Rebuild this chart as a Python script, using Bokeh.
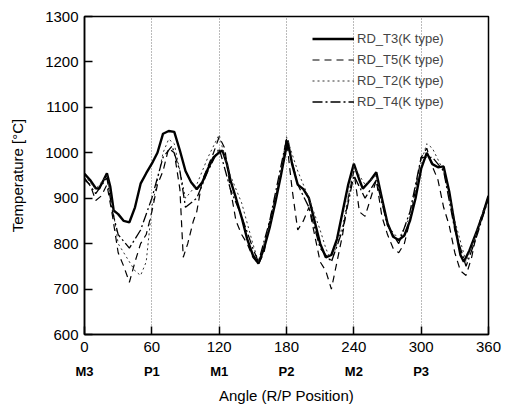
from bokeh.plotting import figure
from bokeh.models import Range1d, FixedTicker, LinearAxis, Legend, LegendItem
from bokeh.embed import file_html
from bokeh.resources import INLINE

# ---- data ----
t3_x = [0, 5, 10, 13, 17, 20, 23, 26, 30, 35, 40, 45, 50, 55, 60, 65, 70, 75, 80, 85, 90, 95,
        100, 105, 110, 115, 120, 123, 127, 130, 135, 140, 145, 150, 155, 160, 165, 170, 175,
        181, 185, 190, 195, 200, 205, 210, 215, 220, 225, 230, 235, 240, 245, 248, 255, 260,
        265, 270, 275, 280, 285, 290, 295, 300, 305, 310, 315, 320, 325, 330, 335, 338, 343,
        350, 355, 360]
t3_y = [954, 940, 922, 921, 940, 955, 925, 873, 865, 850, 847, 880, 932, 955, 976, 1000, 1042,
        1048, 1046, 1005, 960, 935, 920, 935, 965, 990, 1001, 1005, 975, 940, 900, 858, 810,
        775, 756, 790, 835, 890, 950, 1027, 975, 930, 920, 900, 850, 800, 770, 775, 810, 870,
        930, 976, 940, 921, 940, 957, 900, 845, 815, 808, 818, 850, 900, 965, 1000, 975, 968,
        970, 915, 840, 775, 760, 785, 830, 865, 905]

t5_x = [0, 5, 10, 15, 20, 25, 30, 35, 40, 45, 50, 55, 60, 65, 70, 75, 80, 85, 88, 92, 97, 100,
        105, 110, 115, 120, 125, 130, 135, 140, 145, 150, 155, 160, 165, 170, 175, 180, 185,
        190, 195, 200, 205, 210, 215, 220, 225, 230, 235, 240, 245, 250, 255, 260, 265, 270,
        275, 280, 285, 290, 295, 300, 305, 310, 315, 320, 325, 330, 335, 340, 345, 350, 355, 360]
t5_y = [940, 930, 895, 905, 930, 860, 780, 750, 715, 760, 800, 820, 870, 930, 960, 1010, 1000,
        920, 770, 800, 850, 870, 940, 970, 1000, 1035, 1010, 920, 850, 820, 800, 770, 755, 780,
        850, 900, 950, 1030, 920, 830, 850, 880, 820, 760, 740, 700, 760, 820, 900, 960, 870,
        860, 900, 940, 860, 820, 790, 780, 800, 850, 920, 990, 1010, 970, 940, 880, 840, 780,
        740, 730, 770, 830, 870, 900]

t2_x = [0, 10, 20, 25, 30, 35, 45, 50, 55, 60, 70, 75, 80, 85, 90, 100, 110, 120, 125, 130,
        140, 150, 155, 165, 175, 180, 190, 200, 210, 215, 220, 230, 240, 250, 260, 270, 280,
        290, 300, 305, 310, 320, 330, 340, 350, 360]
t2_y = [950, 920, 950, 880, 800, 780, 740, 730, 760, 880, 1000, 1030, 1020, 960, 900, 930, 990,
        1040, 990, 950, 890, 800, 760, 840, 960, 1035, 960, 900, 830, 790, 760, 840, 970, 930,
        950, 840, 810, 860, 980, 1020, 1010, 960, 850, 760, 830, 900]

t4_x = [0, 10, 20, 25, 30, 40, 50, 60, 70, 78, 85, 90, 100, 110, 120, 130, 140, 150, 155, 165,
        180, 190, 200, 210, 220, 230, 240, 250, 260, 270, 280, 290, 300, 310, 320, 330, 340,
        350, 360]
t4_y = [945, 910, 945, 870, 820, 790, 830, 900, 990, 1015, 960, 880, 900, 960, 1010, 920, 860,
        790, 760, 850, 1030, 930, 880, 790, 760, 830, 950, 900, 940, 840, 800, 870, 990, 990,
        960, 830, 750, 820, 900]

x_ticks = [0, 60, 120, 180, 240, 300, 360]
y_ticks = [600, 700, 800, 900, 1000, 1100, 1200, 1300]
pos_ticks = [0, 60, 120, 180, 240, 300]
pos_labels = ["M3", "P1", "M1", "P2", "M2", "P3"]
series_names = ["RD_T3(K type)", "RD_T5(K type)", "RD_T2(K type)", "RD_T4(K type)"]

FONT = "Liberation Sans"

p = figure(width=507, height=406, output_backend="svg", toolbar_location=None,
           x_range=Range1d(0, 360), y_range=Range1d(600, 1300),
           min_border_left=84, min_border_right=19, min_border_top=16, min_border_bottom=72)
p.background_fill_color = "white"
p.border_fill_color = "white"
p.outline_line_color = "black"
p.outline_line_width = 1.5

# grid
p.ygrid.visible = False
p.xgrid.ticker = FixedTicker(ticks=[60, 120, 180, 240, 300])
p.xgrid.grid_line_color = "#777777"
p.xgrid.grid_line_dash = "1 2"
p.xgrid.grid_line_width = 1

# axes
for ax in (p.xaxis[0], p.yaxis[0]):
    ax.major_tick_in = 8
    ax.major_tick_out = 0
    ax.minor_tick_line_color = None
    ax.axis_line_width = 1.5
    ax.major_tick_line_width = 1.5
    ax.major_label_text_font = FONT
    ax.major_label_text_font_size = "15px"
    ax.major_label_text_color = "black"
    ax.axis_label_text_font = FONT
    ax.axis_label_text_font_size = "15px"
    ax.axis_label_text_font_style = "normal"
    ax.axis_label_text_color = "black"

p.xaxis[0].ticker = FixedTicker(ticks=x_ticks)
p.xaxis[0].major_label_standoff = 7
p.yaxis[0].ticker = FixedTicker(ticks=y_ticks)
p.yaxis[0].major_label_standoff = 6
p.yaxis[0].axis_label = "Temperature [°C]"
p.yaxis[0].axis_label_standoff = 16

pos_axis = LinearAxis(ticker=FixedTicker(ticks=pos_ticks),
                      major_label_overrides={t: l for t, l in zip(pos_ticks, pos_labels)},
                      axis_line_color=None, major_tick_line_color=None,
                      minor_tick_line_color=None, major_label_standoff=3,
                      major_label_text_font=FONT, major_label_text_font_size="13px",
                      major_label_text_font_style="bold", major_label_text_color="black",
                      axis_label="Angle (R/P Position)", axis_label_standoff=5,
                      axis_label_text_font=FONT, axis_label_text_font_size="15px",
                      axis_label_text_font_style="normal", axis_label_text_color="black")
p.add_layout(pos_axis, "below")

# lines
r3 = p.line(t3_x, t3_y, line_color="black", line_width=2.4)
r5 = p.line(t5_x, t5_y, line_color="black", line_width=1.2, line_dash="7 5")
r2 = p.line(t2_x, t2_y, line_color="#333333", line_width=1.0, line_dash="2 3")
r4 = p.line(t4_x, t4_y, line_color="black", line_width=1.3, line_dash="10 3 2 3")

legend = Legend(items=[LegendItem(label=n, renderers=[r]) for n, r in
                       zip(series_names, [r3, r5, r2, r4])],
                location=(228, 222), padding=0, margin=0, spacing=0,
                label_height=21, glyph_height=21, glyph_width=42, label_standoff=3,
                label_text_font=FONT, label_text_font_size="13px",
                border_line_color=None, background_fill_alpha=0)
p.add_layout(legend, "center")

open("out.html", "w").write(file_html(p, INLINE))
